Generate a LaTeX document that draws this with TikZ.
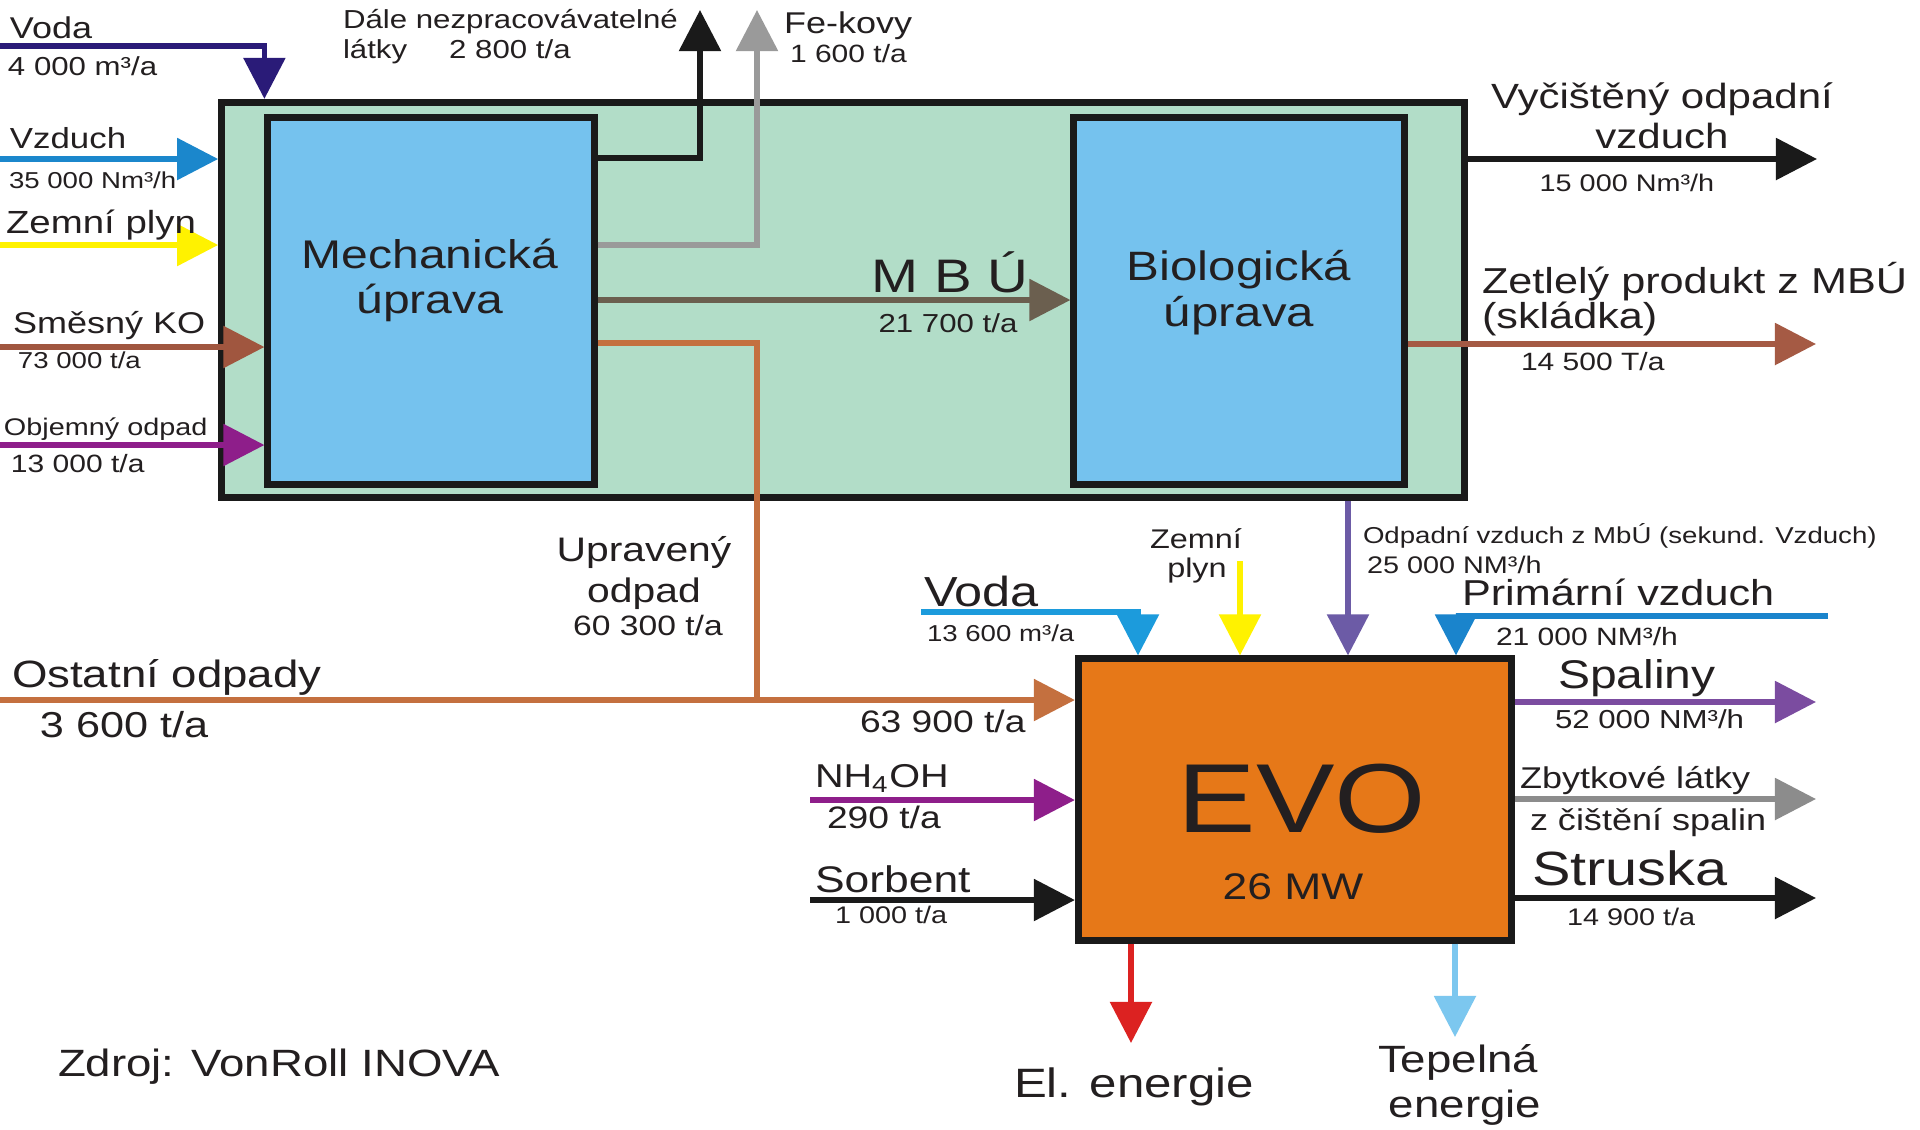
\documentclass[tikz,border=0pt]{standalone}
\usepackage{fontspec}
\setmainfont[FakeStretch=1.2]{Liberation Sans}
\usetikzlibrary{arrows.meta}
\newcommand\fpx[1]{\fontsize{\the\dimexpr 0.2845pt*#1\relax}{\the\dimexpr 0.33pt*#1\relax}\selectfont}
\definecolor{txt}{HTML}{231F20}
\definecolor{mint}{HTML}{B2DDC8}
\definecolor{boxblue}{HTML}{75C2EE}
\definecolor{evoor}{HTML}{E67818}
\definecolor{navy}{HTML}{2A1B78}
\definecolor{airblue}{HTML}{1B87CC}
\definecolor{gasyel}{HTML}{FFF200}
\definecolor{kobrown}{HTML}{A0563F}
\definecolor{objpurp}{HTML}{8E1E8A}
\definecolor{blk}{HTML}{1A1A1A}
\definecolor{fegray}{HTML}{9A9A9A}
\definecolor{mbugray}{HTML}{6B5F4F}
\definecolor{uprorange}{HTML}{C4703F}
\definecolor{zetbrown}{HTML}{A55A44}
\definecolor{odpvz}{HTML}{6C5BA6}
\definecolor{vodablue}{HTML}{1C9BDC}
\definecolor{primblue}{HTML}{1A84CC}
\definecolor{spalpurp}{HTML}{7B4CA0}
\definecolor{zbytgray}{HTML}{8C8C8C}
\definecolor{elred}{HTML}{DC2221}
\definecolor{tepblue}{HTML}{7CC7EF}
\tikzset{
  flow/.style={line width=0.055cm, -{Triangle[length=0.41cm,width=0.41cm]}},
  pipe/.style={line width=0.055cm},
  lbl/.style={inner sep=0pt, outer sep=0pt, text=txt},
  box/.style={draw=blk, line width=0.07cm, inner sep=0pt},
}
\begin{document}
\begin{tikzpicture}[x=0.01cm,y=-0.01cm]
\useasboundingbox[fill=white] (0,0) rectangle (1920,1129);

% ---------- boxes ----------
\node[box, fill=mint, minimum width=12.42cm, minimum height=3.95cm] (outer) at (843,300) {};
\node[box, fill=boxblue, minimum width=3.26cm, minimum height=3.66cm] (mech) at (431,301) {};
\node[box, fill=boxblue, minimum width=3.3cm, minimum height=3.66cm] (bio) at (1239,301) {};
\node[box, fill=evoor, minimum width=4.33cm, minimum height=2.81cm] (evo) at (1295,799.5) {};

% ---------- free ends / bends ----------
\coordinate (vodaS) at (0,46);
\coordinate (vzS) at (0,159);
\coordinate (zpS) at (0,245);
\coordinate (koS) at (0,347);
\coordinate (objS) at (0,445);
\coordinate (daleT) at (700,10);
\coordinate (feT) at (757,10);
\coordinate (junc) at (757,700);
\coordinate (ostS) at (0,700);
\coordinate (vycT) at (1817,159);
\coordinate (zetT) at (1816,344);
\coordinate (zpE) at (1240,561);
\coordinate (vodaE) at (921,612);
\coordinate (primS) at (1828,616);
\coordinate (spalT) at (1816,702);
\coordinate (zbytT) at (1816,799);
\coordinate (strT) at (1816,898);
\coordinate (nhS) at (810,800);
\coordinate (sorbS) at (810,900);
\coordinate (elT) at (1131,1043);
\coordinate (tepT) at (1455,1037);

% ---------- connectors ----------
\draw[flow, navy] (vodaS) -| (mech.west |- outer.north);
\draw[flow, airblue] (vzS) -- (outer.west |- vzS);
\draw[flow, gasyel] (zpS) -- (outer.west |- zpS);
\draw[flow, kobrown] (koS) -- (mech.west |- koS);
\draw[flow, objpurp] (objS) -- (mech.west |- objS);
\draw[flow, blk] (mech.east |- 0,158) -| (daleT);
\draw[flow, fegray] (mech.east |- 0,245) -| (feT);
\draw[flow, mbugray] (mech.east |- 0,300) -- (bio.west |- 0,300);
\draw[pipe, uprorange] (mech.east |- 0,343) -| (junc);
\draw[flow, uprorange] (ostS) -- (evo.west |- ostS);
\draw[flow, blk] (outer.east |- vycT) -- (vycT);
\draw[flow, zetbrown] (bio.east |- zetT) -- (zetT);
\draw[flow, odpvz] (outer.south -| 1348,0) -- (evo.north -| 1348,0);
\draw[flow, gasyel] (zpE) -- (evo.north -| zpE);
\draw[flow, vodablue] (vodaE) -| (evo.north -| 1138,0);
\draw[flow, primblue] (primS) -| (evo.north -| 1456,0);
\draw[flow, spalpurp] (evo.east |- spalT) -- (spalT);
\draw[flow, zbytgray] (evo.east |- zbytT) -- (zbytT);
\draw[flow, blk] (evo.east |- strT) -- (strT);
\draw[flow, objpurp] (nhS) -- (evo.west |- nhS);
\draw[flow, blk] (sorbS) -- (evo.west |- sorbS);
\draw[flow, elred] (evo.south -| elT) -- (elT);
\draw[flow, tepblue] (evo.south -| tepT) -- (tepT);

% ---------- box texts ----------
\node[lbl, anchor=base, font=\fpx{40}] (mech1) at (430,268) {Mechanická};
\node[lbl, anchor=base, font=\fpx{40}] (mech2) at (430,313) {úprava};
\node[lbl, anchor=base, font=\fpx{41}] (bio1) at (1239,280) {Biologická};
\node[lbl, anchor=base, font=\fpx{41}] (bio2) at (1239,326) {úprava};
\node[lbl, anchor=base, font=\fpx{98}] (evo1) at (1302,832) {EVO};
\node[lbl, anchor=base, font=\fpx{37}] (evo2) at (1293,899) {26 MW};

% ---------- labels left ----------
\node[lbl, anchor=base west, font=\fpx{30}] (t1) at (10,38) {Voda};
\node[lbl, anchor=base west, font=\fpx{26}] (t2) at (8,75) {4 000 m³/a};
\node[lbl, anchor=base west, font=\fpx{29}] (t3) at (10,148) {Vzduch};
\node[lbl, anchor=base west, font=\fpx{23}] (t4) at (9,188) {35 000 Nm³/h};
\node[lbl, anchor=base west, font=\fpx{32}] (t5) at (6,233) {Zemní plyn};
\node[lbl, anchor=base west, font=\fpx{30}] (t6) at (13,333) {Směsný KO};
\node[lbl, anchor=base west, font=\fpx{23}] (t7) at (18,368) {73 000 t/a};
\node[lbl, anchor=base west, font=\fpx{24}] (t8) at (4,435) {Objemný odpad};
\node[lbl, anchor=base west, font=\fpx{25}] (t9) at (11,472) {13 000 t/a};

% ---------- labels top ----------
\node[lbl, anchor=base west, font=\fpx{26}] (t10) at (343,28) {Dále nezpracovávatelné};
\node[lbl, anchor=base west, font=\fpx{26}] (t11) at (343,58) {látky\hspace{0.42cm}2 800 t/a};
\node[lbl, anchor=base west, font=\fpx{30}] (t12) at (784,33) {Fe-kovy};
\node[lbl, anchor=base west, font=\fpx{25}] (t13) at (790,62) {1 600 t/a};

% ---------- middle ----------
\node[lbl, anchor=base, font=\fpx{47}] (t14) at (950,292) {M B Ú};
\node[lbl, anchor=base, font=\fpx{26}] (t15) at (948,332) {21 700 t/a};
\node[lbl, anchor=base, font=\fpx{34}] (t16) at (644,561) {Upravený};
\node[lbl, anchor=base, font=\fpx{34}] (t17) at (644,602) {odpad};
\node[lbl, anchor=base, font=\fpx{28}] (t18) at (648,635) {60 300 t/a};
\node[lbl, anchor=base west, font=\fpx{38}] (t19) at (12,687) {Ostatní odpady};
\node[lbl, anchor=base west, font=\fpx{36}] (t20) at (40,737) {3 600 t/a};
\node[lbl, anchor=base west, font=\fpx{31}] (t21) at (860,732) {63 900 t/a};
\node[lbl, anchor=base west, font=\fpx{33}] (t22) at (815,787) {NH\textsubscript{4}OH};
\node[lbl, anchor=base west, font=\fpx{31}] (t23) at (827,828) {290 t/a};
\node[lbl, anchor=base west, font=\fpx{37}] (t24) at (815,892) {Sorbent};
\node[lbl, anchor=base west, font=\fpx{24}] (t25) at (835,923) {1 000 t/a};

% ---------- EVO top ----------
\node[lbl, anchor=base west, font=\fpx{42}] (t26) at (924,606) {Voda};
\node[lbl, anchor=base west, font=\fpx{23}] (t27) at (927,641) {13 600 m³/a};
\node[lbl, anchor=base, font=\fpx{27}] (t28) at (1196,548) {Zemní};
\node[lbl, anchor=base, font=\fpx{27}] (t29) at (1197,577) {plyn};
\node[lbl, anchor=base west, font=\fpx{23}] (t30) at (1363,543) {Odpadní vzduch z MbÚ (sekund. Vzduch)};
\node[lbl, anchor=base west, font=\fpx{24}] (t31) at (1367,573) {25 000 NM³/h};
\node[lbl, anchor=base west, font=\fpx{36}] (t32) at (1462,605) {Primární vzduch};
\node[lbl, anchor=base west, font=\fpx{25}] (t33) at (1496,645) {21 000 NM³/h};

% ---------- right ----------
\node[lbl, anchor=base, font=\fpx{35}] (t34) at (1662,108) {Vyčištěný odpadní};
\node[lbl, anchor=base, font=\fpx{35}] (t35) at (1662,148) {vzduch};
\node[lbl, anchor=base, font=\fpx{24}] (t36) at (1627,191) {15 000 Nm³/h};
\node[lbl, anchor=base west, font=\fpx{36}] (t37) at (1482,293) {Zetlelý produkt z MBÚ};
\node[lbl, anchor=base west, font=\fpx{36}] (t38) at (1482,328) {(skládka)};
\node[lbl, anchor=base west, font=\fpx{25}] (t39) at (1521,370) {14 500 T/a};
\node[lbl, anchor=base west, font=\fpx{40}] (t40) at (1558,688) {Spaliny};
\node[lbl, anchor=base west, font=\fpx{26}] (t41) at (1555,728) {52 000 NM³/h};
\node[lbl, anchor=base west, font=\fpx{30}] (t42) at (1520,788) {Zbytkové látky};
\node[lbl, anchor=base west, font=\fpx{30}] (t43) at (1530,830) {z čištění spalin};
\node[lbl, anchor=base west, font=\fpx{48}] (t44) at (1532,885) {Struska};
\node[lbl, anchor=base west, font=\fpx{24}] (t45) at (1567,925) {14 900 t/a};

% ---------- bottom ----------
\node[lbl, anchor=base, font=\fpx{41}] (t46) at (1134,1097) {El. energie};
\node[lbl, anchor=base, font=\fpx{38}] (t47) at (1458,1072) {Tepelná};
\node[lbl, anchor=base, font=\fpx{38}] (t48) at (1465,1117) {energie};
\node[lbl, anchor=base west, font=\fpx{38}] (t49) at (58,1076) {Zdroj: VonRoll INOVA};
\end{tikzpicture}
\end{document}
